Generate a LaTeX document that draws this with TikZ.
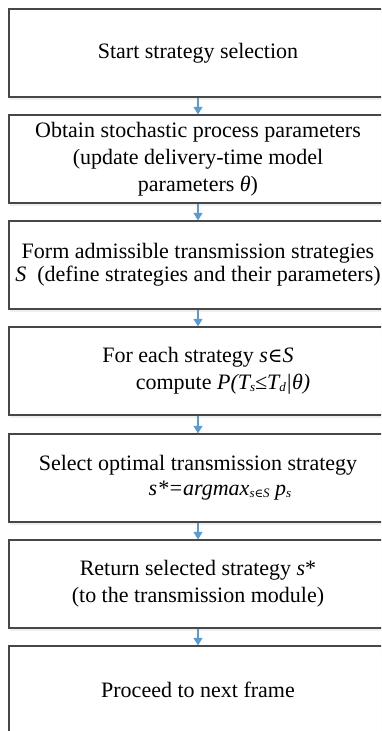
\documentclass[tikz,border=0pt]{standalone}
\usepackage{fontspec}
\setmainfont{Liberation Serif}
\newfontfamily\symf[Scale=0.9]{DejaVu Serif}
\usetikzlibrary{arrows.meta,shadows}
% small lowered index used in the formulas
\newcommand{\idx}[1]{\raisebox{-2pt}{\fontsize{13}{13}\selectfont #1}}
% element-of sign, taken from a family that has it
\newcommand{\elem}{{\symf\itshape ∈}}
\begin{document}
\begin{tikzpicture}[x=1pt,y=-1pt,
  stepbox/.style={draw=black!72, line width=1.3pt, fill=white,
    minimum width=378pt, minimum height=88pt, inner sep=0pt,
    align=center, font=\fontsize{22}{27}\selectfont,
    drop shadow={opacity=0.12, shadow xshift=1pt, shadow yshift=-3pt}},
  flow/.style={draw={rgb,255:red,91;green,155;blue,213}, line width=1.1pt,
    -{Triangle[width=9pt,length=7.5pt]}}]
\useasboundingbox (0,0) rectangle (381,731);
\clip (0,0) rectangle (381,731);
\fill[white] (0,0) rectangle (381,731);

\node[stepbox] (start) at (198,53) {Start strategy selection};
\node[stepbox] (params) at (198,159)
  {Obtain stochastic process parameters\\(update delivery-time model\\parameters \textit{θ})};
\node[stepbox, font=\fontsize{22}{23}\selectfont] (form) at (198,265)
  {Form admissible transmission strategies\\\textit{S}\ \ (define strategies and their parameters)};
\node[stepbox] (each) at (198,371)
  {For each strategy \textit{s}\elem\textit{S}\\\hspace*{50pt}compute \textit{P(T\idx{s}≤T\idx{d}|θ)}};
\node[stepbox, font=\fontsize{22}{25}\selectfont] (select) at (198,478)
  {Select optimal transmission strategy\\\hspace*{44pt}\textit{s*=argmax\idx{s\elem S} p\idx{s}}};
\node[stepbox] (ret) at (198,584)
  {Return selected strategy \textit{s}*\\(to the transmission module)};
\node[stepbox] (next) at (198,690) {Proceed to next frame};

\draw[flow] (start) -- (params);
\draw[flow] (params) -- (form);
\draw[flow] (form) -- (each);
\draw[flow] (each) -- (select);
\draw[flow] (select) -- (ret);
\draw[flow] (ret) -- (next);
\end{tikzpicture}
\end{document}
